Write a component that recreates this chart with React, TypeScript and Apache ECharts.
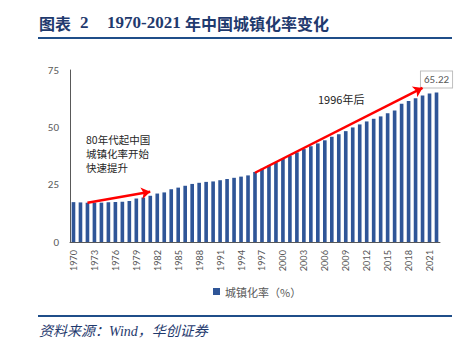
import React, { useEffect, useRef } from "react";
import * as echarts from "echarts";

const years: string[] = [];
for (let y = 1970; y <= 2022; y++) years.push(String(y));

const urbanRate: number[] = [
  17.38, 17.26, 17.13, 17.2, 17.16, 17.34, 17.44, 17.55, 17.92, 18.96,
  19.39, 20.16, 21.13, 21.62, 23.01, 23.71, 24.52, 25.32, 25.81, 26.21,
  26.41, 26.94, 27.46, 27.99, 28.51, 29.04, 30.48, 31.91, 33.35, 34.78,
  36.22, 37.66, 39.09, 40.53, 41.76, 42.99, 44.34, 45.89, 46.99, 48.34,
  49.95, 51.27, 52.57, 53.73, 54.77, 56.1, 57.35, 60.24, 61.5, 62.71,
  63.89, 64.72, 65.22,
];

const yTicks = { min: 0, max: 75, interval: 25 };

const arrow1 = { from: ["1972", 17.1], to: ["1981", 21.9] };
const arrow2 = { from: ["1996", 30.2], to: ["2020", 67.2] };

const noteLeftLines = ["80年代起中国", "城镇化率开始", "快速提升"];
const noteRight = "1996年后";
const legendName = "城镇化率（%）";

export default function App() {
  const ref = useRef<HTMLDivElement>(null);
  useEffect(() => {
    if (!ref.current) return;
    const chart = echarts.init(ref.current, null, { renderer: "svg" });
    const navy = "#1F3A6E";
    const gray = "#595959";
    const lastIdx = urbanRate.length - 1;
    const seriesData = urbanRate.map((v, i) =>
      i === lastIdx
        ? {
            value: v,
            label: {
              show: true,
              position: "top",
              formatter: (p: any) => p.value.toFixed(2),
              color: gray,
              fontSize: 11,
              fontFamily: "Calibri, Carlito, 'Noto Sans', sans-serif",
              backgroundColor: "#fff",
              borderColor: "#BFBFBF",
              borderWidth: 1,
              padding: [3, 3, 2, 3],
            },
            labelLayout: { dx: -3, dy: -12 },
            labelLine: { show: true, lineStyle: { color: "#BFBFBF", width: 1 } },
          }
        : v
    );
    const noteTexts = noteLeftLines.map((t, i) => ({
      type: "text",
      left: 86,
      top: 134 + i * 14,
      style: { text: t, fill: "#262626", font: "10.5px 'Noto Sans CJK SC'" },
    }));
    chart.setOption({
      animation: false,
      grid: { left: 70, right: 31, top: 70, bottom: 110, containLabel: false },
      legend: {
        show: true,
        top: 281,
        left: 208,
        icon: "rect",
        itemWidth: 7,
        itemHeight: 7,
        itemGap: 4,
        textStyle: { color: gray, fontSize: 11, fontFamily: "'Noto Sans CJK SC', sans-serif" },
        data: [legendName],
      },
      xAxis: {
        type: "category",
        data: years,
        boundaryGap: true,
        axisLine: { show: true, lineStyle: { color: "#595959", width: 1 } },
        axisTick: { show: false },
        axisLabel: {
          interval: 2,
          rotate: 90,
          color: gray,
          fontSize: 10.5,
          margin: 8,
          fontFamily: "Calibri, Carlito, 'Noto Sans', sans-serif",
        },
        splitLine: { show: false },
      },
      yAxis: {
        type: "value",
        min: yTicks.min,
        max: yTicks.max,
        interval: yTicks.interval,
        axisLine: { show: true, lineStyle: { color: "#595959", width: 1 } },
        axisTick: { show: false },
        splitLine: { show: false },
        axisLabel: {
          color: gray,
          fontSize: 11,
          margin: 11,
          fontFamily: "Calibri, Carlito, 'Noto Sans', sans-serif",
        },
      },
      series: [
        {
          name: legendName,
          type: "bar",
          data: seriesData,
          barWidth: "52%",
          itemStyle: { color: "#2F5597" },
          markLine: {
            silent: true,
            symbol: ["none", "arrow"],
            symbolSize: 9,
            label: { show: false },
            lineStyle: { color: "#FF0000", width: 2.5, type: "solid" },
            data: [
              [{ coord: arrow1.from }, { coord: arrow1.to }],
              [{ coord: arrow2.from }, { coord: arrow2.to }],
            ],
          },
        },
      ],
      graphic: [
        { type: "text", left: 39, top: 15, style: { text: "图表", fill: navy, font: "bold 16px 'Noto Sans CJK SC'" } },
        { type: "text", left: 80, top: 14, style: { text: "2", fill: navy, font: "bold 17px 'Liberation Serif'" } },
        { type: "text", left: 107, top: 14, style: { text: "1970-2021", fill: navy, font: "bold 17px 'Liberation Serif'" } },
        { type: "text", left: 185, top: 15, style: { text: "年中国城镇化率变化", fill: navy, font: "bold 16px 'Noto Sans CJK SC'" } },
        { type: "rect", shape: { x: 38, y: 37, width: 414, height: 2 }, style: { fill: "#1F4E89" } },
        { type: "rect", shape: { x: 38, y: 315, width: 414, height: 2 }, style: { fill: "#1F4E89" } },
        {
          type: "text",
          left: 39,
          top: 324,
          style: {
            text: "资料来源：Wind，华创证券",
            fill: navy,
            font: "italic 14px 'Liberation Serif', 'Noto Sans CJK SC'",
          },
        },
        ...noteTexts,
        {
          type: "text",
          left: 318,
          top: 93,
          style: { text: noteRight, fill: "#262626", font: "11px 'Noto Sans CJK SC'" },
        },
      ],
    });
    return () => chart.dispose();
  }, []);
  return (
    <div
      ref={ref}
      style={{ position: "fixed", left: 0, top: 0, width: 471, height: 352, background: "#fff" }}
    />
  );
}
